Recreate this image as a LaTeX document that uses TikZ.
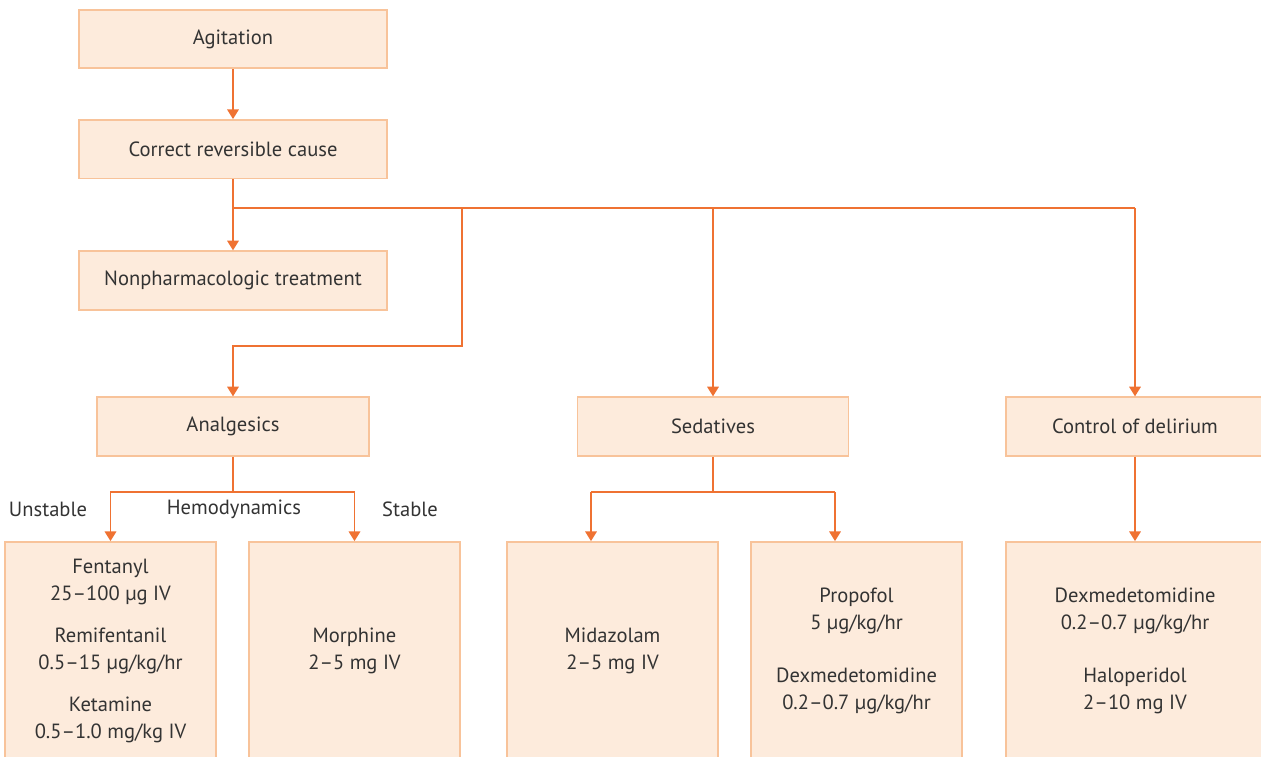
\documentclass[tikz,border=0pt]{standalone}
\usepackage{fontspec}
\setmainfont{PT Sans}
\usepackage{tikz}
\usetikzlibrary{positioning}
\usetikzlibrary{arrows.meta}
\definecolor{boxfill}{HTML}{FDEBDC}
\definecolor{boxline}{HTML}{F8C39A}
\definecolor{linkorange}{HTML}{EF7232}
\definecolor{txt}{HTML}{333333}

\begin{document}
\begin{tikzpicture}[x=0.02cm, y=-0.02cm,
    every node/.style = {text=txt, align=center, inner sep=0pt, font=\fontsize{11.7pt}{15.3pt}\selectfont},
    box/.style = {draw=boxline, fill=boxfill, line width=1pt, minimum width=6.16cm, minimum height=1.17cm},
    drug/.style = {box, minimum width=4.22cm, minimum height=4.36cm},
    link/.style = {draw=linkorange, line width=1.1pt},
    >={Triangle[width=6.5pt, length=5.5pt]}
    ]
    \useasboundingbox (0,0) rectangle (1261,757);
    \clip (0,0) rectangle (1261,757);
    \node[box] (agit) at (233,39) {Agitation};
    \node[box] (cause) [below=1.0cm of agit] {Correct reversible cause};
    \node[box] (nonph) [below=1.42cm of cause] {Nonpharmacologic treatment};
    \node[box, minimum width=5.44cm] (anal) at (233,426.5) {Analgesics};
    \node[box, minimum width=5.42cm] (sed) at (713,426.5) {Sedatives};
    \node[box, minimum width=5.16cm] (delir) at (1135,426.5) {Control of delirium};
    \node[drug] (fent) at (110.5,651) {Fentanyl\\25–100 µg IV\\[8.5pt]Remifentanil\\0.5–15 µg/kg/hr\\[8.5pt]Ketamine\\0.5–1.0 mg/kg IV};
    \node[drug] (morph) at (354.5,651) {Morphine\\2–5 mg IV};
    \node[drug] (mida) at (612.5,651) {Midazolam\\2–5 mg IV};
    \node[drug] (prop) at (856.5,651) {Propofol\\5 µg/kg/hr\\[15.3pt]Dexmedetomidine\\0.2–0.7 µg/kg/hr};
    \node[drug, minimum width=5.16cm] (dexh) at (1135,651) {Dexmedetomidine\\0.2–0.7 µg/kg/hr\\[15.3pt]Haloperidol\\2–10 mg IV};
    \node (unst) at (48,509) {Unstable};
    \node (hemo) at (234,509) {Hemodynamics};
    \node (stab) at (410,509) {Stable};
    % branching points
    \coordinate (split) at (233,208);
    \coordinate (turn) at (462,208);
    \coordinate (bend) at (462,346);
    \coordinate (abr) at (233,492);
    \coordinate (sbr) at (713,492);
    \coordinate (sl) at (591,492);
    \coordinate (sr) at (835,492);
    \draw[link, ->] (agit) -- (cause);
    \draw[link, ->] (cause) -- (nonph);
    \draw[link] (split) -- (split -| delir);
    \draw[link, ->] (turn) -- (bend) -| (anal);
    \draw[link, ->] (split -| sed) -- (sed);
    \draw[link, ->] (split -| delir) -- (delir);
    \draw[link] (anal) -- (abr);
    \draw[link, ->] (abr) -| (fent);
    \draw[link, ->] (abr) -| (morph);
    \draw[link] (sed) -- (sbr);
    \draw[link] (sl) -- (sr);
    \draw[link, ->] (sl) -- (sl |- mida.north);
    \draw[link, ->] (sr) -- (sr |- prop.north);
    \draw[link, ->] (delir) -- (dexh);
\end{tikzpicture}
\end{document}
